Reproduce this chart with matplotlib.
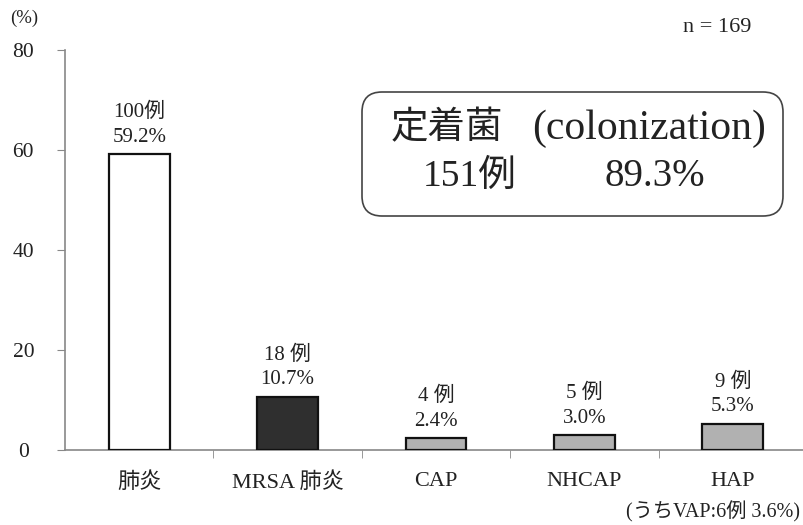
import matplotlib
matplotlib.use("Agg")
import matplotlib.pyplot as plt
from matplotlib.patches import FancyBboxPatch

plt.rcParams['font.family'] = ['Liberation Serif', 'Noto Sans CJK JP']

categories = ['肺炎', 'MRSA 肺炎', 'CAP', 'NHCAP', 'HAP']
percents = [59.2, 10.7, 2.4, 3.0, 5.3]
counts = ['100例', '18 例', '4 例', '5 例', '9 例']
pct_labels = ['59.2%', '10.7%', '2.4%', '3.0%', '5.3%']
bar_colors = ['#ffffff', '#2f2f2f', '#b1b1b1', '#b1b1b1', '#b1b1b1']
yticks = [0, 20, 40, 60, 80]

W, H = 804, 525
fig = plt.figure(figsize=(W / 100, H / 100), dpi=100)
ax = fig.add_axes([65 / W, (H - 450) / H, 742 / W, 400 / H])

x = list(range(len(categories)))
ax.bar(x, percents, width=0.41, color=bar_colors,
       edgecolor='#111111', linewidth=1.6, zorder=3)

# two-line labels above each bar
for xi, v, c, p in zip(x, percents, counts, pct_labels):
    ax.annotate(p, (xi, v), xytext=(0, 12), textcoords='offset points',
                ha='center', va='center', fontsize=15, color='#222222')
    ax.annotate(c, (xi, v), xytext=(0, 30), textcoords='offset points',
                ha='center', va='center', fontsize=15, color='#222222')

ax.set_xlim(-0.5, 4.5)
ax.set_ylim(0, 80)
ax.set_yticks(yticks)
ax.set_xticks(x)
ax.set_xticklabels(categories, fontsize=16, color='#222222')
ax.set_xticks([0.5, 1.5, 2.5, 3.5], minor=True)
ax.tick_params(axis='x', which='major', length=0, pad=16)
ax.tick_params(axis='x', which='minor', length=6, color='#888888', direction='out')
ax.tick_params(axis='y', length=6, color='#888888', pad=24, labelsize=15.5,
               labelcolor='#222222')
for lbl in ax.get_yticklabels():
    lbl.set_horizontalalignment('center')

for s in ['top', 'right']:
    ax.spines[s].set_visible(False)
for s in ['left', 'bottom']:
    ax.spines[s].set_color('#888888')
    ax.spines[s].set_linewidth(1.2)


def fx(px):
    return px / W


def fy(py):
    return 1 - py / H


fig.text(fx(24), fy(18), '(%)', ha='center', va='center', fontsize=13.5, color='#222222')
fig.text(fx(717), fy(28), 'n = 169', ha='center', va='center', fontsize=16, color='#222222')
fig.text(fx(800), fy(512), '(うちVAP:6例 3.6%)', ha='right', va='center',
         fontsize=14.5, color='#222222')

# rounded box with colonization summary
box = FancyBboxPatch((3.62, (H - 216) / 100), 4.21, 1.24,
                     boxstyle='round,pad=0,rounding_size=0.2',
                     transform=fig.dpi_scale_trans, facecolor='white',
                     edgecolor='#444444', linewidth=1.2, zorder=5)
fig.add_artist(box)
fig.text(fx(447), fy(129), '定着菌', ha='center', va='center',
         fontsize=27, color='#222222', zorder=6)
fig.text(fx(532), fy(129), '(colonization)', ha='left', va='center',
         fontsize=30, color='#222222', zorder=6)
fig.text(fx(470), fy(177), '151例', ha='center', va='center',
         fontsize=27, color='#222222', zorder=6)
fig.text(fx(655), fy(177), '89.3%', ha='center', va='center',
         fontsize=28, color='#222222', zorder=6)

fig.savefig('out.png', dpi=100)
